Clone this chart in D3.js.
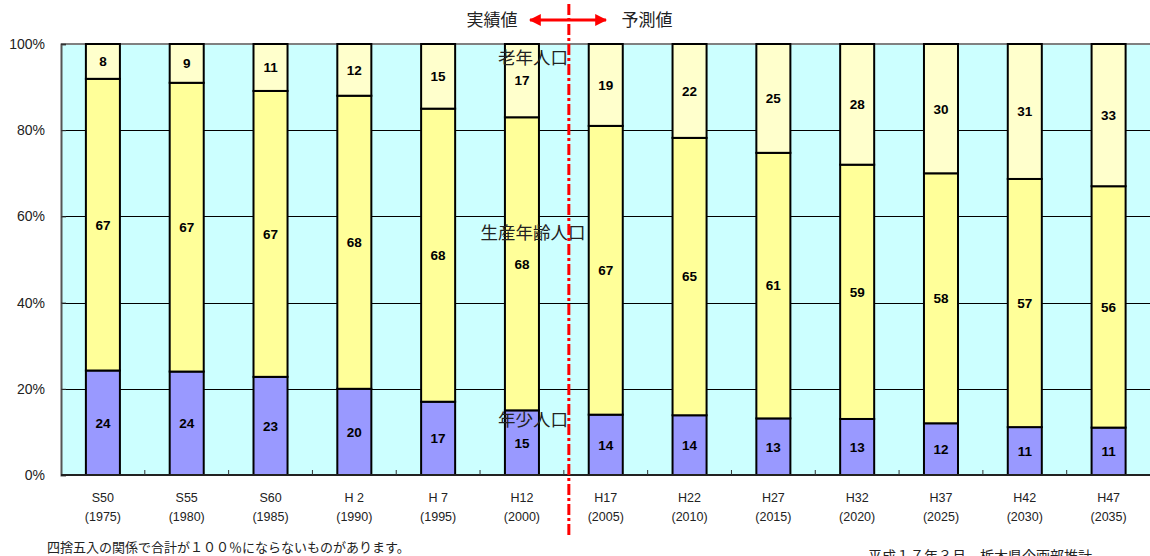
<!DOCTYPE html>
<html><head><meta charset="utf-8">
<script src="https://cdn.jsdelivr.net/npm/d3@7"></script>
<style>
html,body{margin:0;padding:0;background:#fff;}
svg{display:block;}
</style></head>
<body><svg id="c" width="1150" height="556"></svg>
<script>
const categories = ["S50","S55","S60","H 2","H 7","H12","H17","H22","H27","H32","H37","H42","H47"];
const years = ["(1975)","(1980)","(1985)","(1990)","(1995)","(2000)","(2005)","(2010)","(2015)","(2020)","(2025)","(2030)","(2035)"];
const young   = [24,24,23,20,17,15,14,14,13,13,12,11,11];
const working = [67,67,67,68,68,68,67,65,61,59,58,57,56];
const old     = [8,9,11,12,15,17,19,22,25,28,30,31,33];
const yTicks = [0,0.2,0.4,0.6,0.8,1.0];
const seriesKeys = ["young","working","old"];
const seriesColors = {young:"#9999ff", working:"#ffff99", old:"#ffffcc"};
const seriesNames = {young:"年少人口", working:"生産年齢人口", old:"老年人口"};
const actualLabel = "実績値", forecastLabel = "予測値";
const noteLeft = "四捨五入の関係で合計が１００％にならないものがあります。";
const noteRight = "平成１７年３月　栃木県企画部推計";
const splitIndex = 6; // forecast begins at H17

const rows = categories.map((c,i)=>({cat:c, young:young[i], working:working[i], old:old[i]}));
const stack = d3.stack().keys(seriesKeys).offset(d3.stackOffsetExpand);
const stacked = stack(rows);

const svg = d3.select("#c");
const L = 61, R = 1150.5, T = 44, B = 475;
const x = d3.scaleBand().domain(categories).range([L, R]).paddingInner(0.594).paddingOuter(0.297);
const y = d3.scaleLinear().domain([0,1]).range([B, T]);
const latin = "'Liberation Sans', Arial, sans-serif";
const jp = "'Noto Sans CJK JP', sans-serif";

// background
svg.append("rect").attr("x",L).attr("y",T).attr("width",R-L).attr("height",B-T).attr("fill","#ccffff");
// gridlines
svg.append("g").selectAll("line").data(yTicks.filter(t=>t>0&&t<1)).join("line")
  .attr("x1",L).attr("x2",R).attr("y1",d=>Math.round(y(d))+0.5).attr("y2",d=>Math.round(y(d))+0.5)
  .attr("stroke","#000").attr("stroke-width",1);
// top border
svg.append("line").attr("x1",L).attr("x2",R).attr("y1",T).attr("y2",T).attr("stroke","#808080").attr("stroke-width",2);

// bars
const gBars = svg.append("g");
stacked.forEach(s=>{
  gBars.append("g").selectAll("rect").data(s).join("rect")
    .attr("x",d=>x(d.data.cat)).attr("width",x.bandwidth())
    .attr("y",d=>y(d[1])).attr("height",d=>y(d[0])-y(d[1]))
    .attr("fill",seriesColors[s.key]).attr("stroke","#000").attr("stroke-width",2);
});
// value labels
stacked.forEach(s=>{
  gBars.append("g").selectAll("text").data(s).join("text")
    .attr("x",d=>x(d.data.cat)+x.bandwidth()/2)
    .attr("y",d=>(y(d[0])+y(d[1]))/2)
    .attr("dy","0.36em").attr("text-anchor","middle")
    .attr("font-family",latin).attr("font-weight","bold").attr("font-size",13.5).attr("fill","#000")
    .text(d=>d.data[s.key]);
});

// left axis
const yAxis = d3.axisLeft(y).tickValues(yTicks).tickFormat(d=>Math.round(d*100)+"%").tickSize(-5).tickPadding(16);
const ga = svg.append("g").attr("transform",`translate(${L},0)`).call(yAxis);
ga.select(".domain").attr("stroke","#555").attr("stroke-width",2);
ga.selectAll(".tick line").attr("stroke","#333");
ga.selectAll("text").attr("font-family",latin).attr("font-size",14).attr("fill","#222");

// bottom axis line & ticks at category boundaries
svg.append("line").attr("x1",L).attr("x2",R).attr("y1",B).attr("y2",B).attr("stroke","#222").attr("stroke-width",2);
const step = x.step();
svg.append("g").selectAll("line").data(categories.slice(1)).join("line")
  .attr("x1",d=>x(d)+x.bandwidth()/2-step/2).attr("x2",d=>x(d)+x.bandwidth()/2-step/2)
  .attr("y1",B).attr("y2",B-5).attr("stroke","#333").attr("stroke-width",1);
const gx = svg.append("g").selectAll("text").data(categories).join("text")
  .attr("x",d=>x(d)+x.bandwidth()/2).attr("text-anchor","middle")
  .attr("font-family",latin).attr("font-size",12.5).attr("fill","#222");
gx.append("tspan").attr("x",d=>x(d)+x.bandwidth()/2).attr("y",502).text(d=>d);
gx.append("tspan").attr("x",d=>x(d)+x.bandwidth()/2).attr("y",521).text((d,i)=>years[i]);

// series annotations on the H12 bar
const annX = x(categories[5]) + x.bandwidth()/2 + 11;
const annY = {old: 58, working: 233, young: 420};
seriesKeys.forEach(k=>{
  svg.append("text").attr("x",annX).attr("y",annY[k]).attr("dy","0.36em").attr("text-anchor","middle")
    .attr("font-family",jp).attr("font-size",17.5).attr("fill","#222").text(seriesNames[k]);
});

// split line
const splitX = (x(categories[splitIndex-1]) + x.bandwidth()/2 + x(categories[splitIndex]) + x.bandwidth()/2)/2 + 5;
svg.append("line").attr("x1",splitX).attr("x2",splitX).attr("y1",4).attr("y2",537)
  .attr("stroke","#ff0000").attr("stroke-width",3).attr("stroke-dasharray","11,3,3,3");
// arrow
const defs = svg.append("defs");
defs.append("marker").attr("id","ah").attr("viewBox","0 0 10 10").attr("refX",9).attr("refY",5)
  .attr("markerWidth",4).attr("markerHeight",4).attr("orient","auto-start-reverse").attr("markerUnits","strokeWidth")
  .append("path").attr("d","M0,0 L10,5 L0,10 Z").attr("fill","#ff0000");
svg.append("line").attr("x1",530).attr("x2",606).attr("y1",20).attr("y2",20)
  .attr("stroke","#ff0000").attr("stroke-width",3)
  .attr("marker-start","url(#ah)").attr("marker-end","url(#ah)");
svg.append("text").attr("x",492).attr("y",20).attr("dy","0.36em").attr("text-anchor","middle")
  .attr("font-family",jp).attr("font-size",17).attr("fill","#222").text(actualLabel);
svg.append("text").attr("x",647).attr("y",20).attr("dy","0.36em").attr("text-anchor","middle")
  .attr("font-family",jp).attr("font-size",17).attr("fill","#222").text(forecastLabel);

// notes
svg.append("text").attr("x",47).attr("y",552).attr("font-family",jp).attr("font-size",13).attr("fill","#222").text(noteLeft);
svg.append("text").attr("x",868).attr("y",561).attr("font-family",jp).attr("font-size",14).attr("fill","#222").text(noteRight);
</script></body></html>
